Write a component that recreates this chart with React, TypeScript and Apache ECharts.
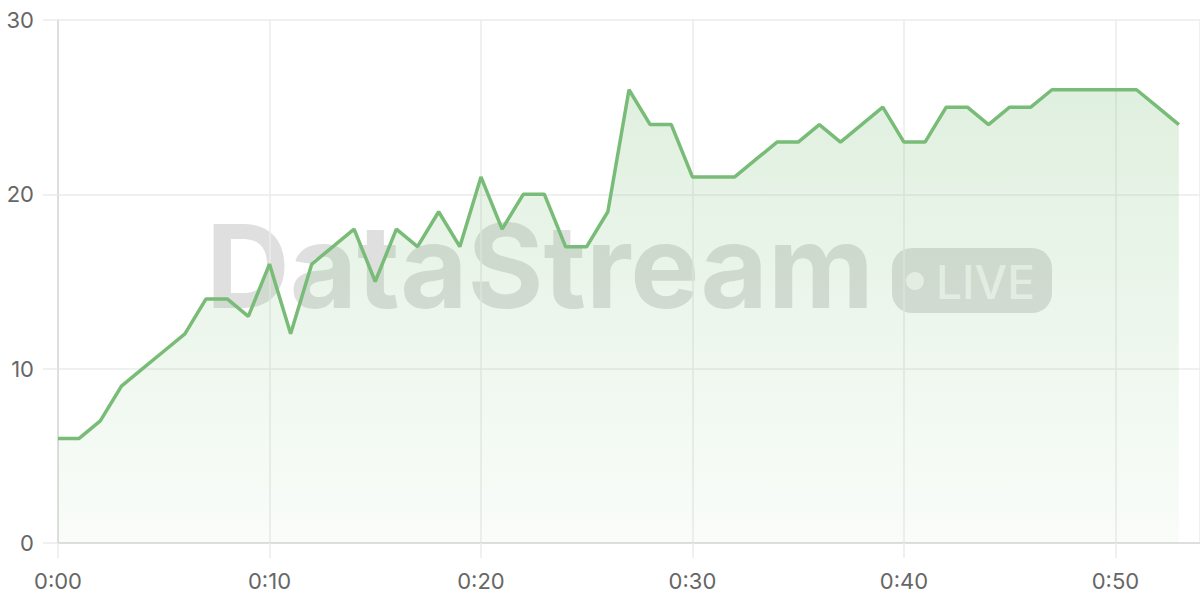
import React, { useEffect, useRef } from "react";
import * as echarts from "echarts";

const minutes = [
  0, 1, 2, 3, 4, 5, 6, 7, 8, 9, 10, 11, 12, 13, 14, 15, 16, 17, 18, 19, 20, 21, 22, 23, 24, 25, 26,
  27, 28, 29, 30, 31, 32, 33, 34, 35, 36, 37, 38, 39, 40, 41, 42, 43, 44, 45, 46, 47, 48, 49, 50, 51,
  52, 53,
];
const values = [
  6, 6, 7, 9, 10, 11, 12, 14, 14, 13, 16, 12, 16, 17, 18, 15, 18, 17, 19, 17, 21, 18, 20, 20, 17, 17,
  19, 26, 24, 24, 21, 21, 21, 22, 23, 23, 24, 23, 24, 25, 23, 23, 25, 25, 24, 25, 25, 26, 26, 26, 26,
  26, 25, 24,
];
const yTicks = [0, 10, 20, 30];
const xTickMinutes = [0, 10, 20, 30, 40, 50];
const watermarkTitle = "DataStream";
const watermarkBadge = "LIVE";

const FONT = "Inter, 'Noto Sans', sans-serif";

export default function App() {
  const ref = useRef<HTMLDivElement>(null);
  useEffect(() => {
    if (!ref.current) return;
    const chart = echarts.init(ref.current, undefined, { renderer: "svg" });
    const data = minutes.map((m, i) => [m, values[i]]);
    chart.setOption({
      animation: false,
      grid: { left: 58, right: 0, top: 20, bottom: 57, containLabel: false },
      xAxis: {
        type: "value",
        min: xTickMinutes[0],
        max: 54,
        interval: 10,
        axisLine: { show: true, lineStyle: { color: "#d9d9d9", width: 1.5 } },
        axisTick: { show: true, length: 15, lineStyle: { color: "#ebebeb", width: 1.5 } },
        splitLine: { show: true, lineStyle: { color: "#ebebeb", width: 1.5 } },
        axisLabel: {
          color: "#666",
          fontSize: 22,
          fontFamily: FONT,
          margin: 27,
          showMaxLabel: false,
          formatter: (v: number) => `0:${String(v).padStart(2, "0")}`,
        },
      },
      yAxis: {
        type: "value",
        min: yTicks[0],
        max: yTicks[yTicks.length - 1],
        interval: 10,
        axisLine: { show: true, lineStyle: { color: "#d9d9d9", width: 1.5 } },
        axisTick: { show: true, length: 15, lineStyle: { color: "#ebebeb", width: 1.5 } },
        splitLine: { show: true, lineStyle: { color: "#ebebeb", width: 1.5 } },
        axisLabel: { color: "#666", fontSize: 22, fontFamily: FONT, margin: 24 },
      },
      graphic: [
        {
          type: "text",
          z: 0,
          left: 206,
          top: 208,
          silent: true,
          style: {
            text: watermarkTitle,
            font: `bold 116px ${FONT}`,
            fill: "rgba(150,150,150,0.3)",
          },
        },
        {
          type: "group",
          z: 0,
          left: 892,
          top: 248,
          silent: true,
          children: [
            {
              type: "rect",
              shape: { x: 0, y: 0, width: 160, height: 65, r: 20 },
              style: { fill: "rgba(150,150,150,0.3)" },
            },
            {
              type: "circle",
              shape: { cx: 23, cy: 33, r: 9 },
              style: { fill: "rgba(255,255,255,0.7)" },
            },
            {
              type: "text",
              x: 44,
              y: 34,
              style: {
                text: watermarkBadge,
                font: `500 46px ${FONT}`,
                fill: "rgba(255,255,255,0.7)",
                verticalAlign: "middle",
              },
            },
          ],
        },
      ],
      series: [
        {
          type: "line",
          data,
          showSymbol: false,
          symbol: "none",
          z: 5,
          lineStyle: { color: "#78bc77", width: 3.5 },
          areaStyle: {
            color: new echarts.graphic.LinearGradient(0, 0, 0, 1, [
              { offset: 0, color: "rgba(120,190,120,0.33)" },
              { offset: 1, color: "rgba(120,190,120,0.06)" },
            ]),
          },
        },
      ],
    });
    return () => chart.dispose();
  }, []);
  return (
    <div
      ref={ref}
      style={{ position: "absolute", left: 0, top: 0, width: 1200, height: 600 }}
    />
  );
}
